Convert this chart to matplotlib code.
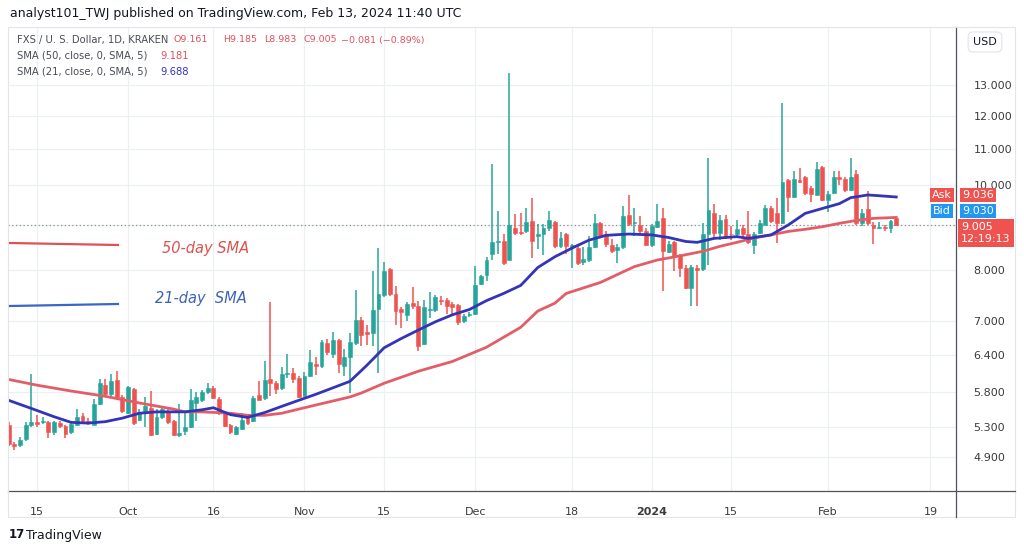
import matplotlib
matplotlib.use("Agg")
import matplotlib.pyplot as plt
import matplotlib.dates as mdates
from matplotlib.ticker import FixedLocator, NullLocator
from matplotlib.patches import Rectangle
from matplotlib.lines import Line2D
import pandas as pd

# daily FXS/USD candles, Sep 10 2023 .. Feb 13 2024
start = "2023-09-10"
opens = [
    # Sep 10-30
    5.33, 5.07, 5.05, 5.13, 5.32, 5.37, 5.36, 5.37, 5.22, 5.35, 5.31, 5.22, 5.33, 5.45, 5.38, 5.33, 5.63, 5.92, 5.77, 5.99, 5.73,
    # Oct
    5.50, 5.85, 5.40, 5.51, 5.57, 5.20, 5.43, 5.52, 5.38, 5.18, 5.24, 5.29, 5.64, 5.68, 5.80, 5.86, 5.70, 5.50, 5.33, 5.20,
    5.27, 5.45, 5.38, 5.76, 5.72, 6.00, 5.94, 5.86, 6.08, 6.10, 6.02,
    # Nov
    5.75, 6.06, 6.24, 6.21, 6.61, 6.42, 6.66, 6.22, 6.36, 6.60, 7.01, 6.80, 6.78, 7.22, 7.48, 8.02, 7.50, 7.22, 7.11, 7.33,
    7.28, 6.58, 7.20, 7.20, 7.40, 7.40, 7.31, 7.29, 7.00, 7.10,
    # Dec
    7.13, 7.70, 7.90, 8.34, 8.60, 8.62, 8.22, 8.92, 8.84, 8.85, 9.10, 8.74, 8.78, 8.93, 9.08, 8.52, 8.78, 8.50, 8.48, 8.16,
    8.20, 8.50, 9.04, 8.78, 8.55, 8.42, 8.49, 9.24, 9.04, 9.00, 8.86,
    # Jan
    8.53, 8.96, 9.16, 8.39, 8.60, 8.32, 8.05, 7.63, 8.03, 8.02, 8.79, 9.28, 8.82, 9.14, 8.80, 8.79, 8.93, 8.80, 8.55, 8.82,
    9.00, 9.40, 9.28, 9.05, 10.12, 9.70, 10.13, 10.21, 9.92, 9.75, 10.47,
    # Feb 1-13
    9.62, 9.78, 10.22, 10.15, 9.86, 10.29, 9.04, 9.38, 9.00, 8.93, 8.96, 8.92, 9.161,
]
highs = [
    5.36, 5.09, 5.16, 5.36, 6.08, 5.46, 5.44, 5.38, 5.38, 5.38, 5.33, 5.37, 5.55, 5.50, 5.42, 5.70, 6.00, 6.00, 6.08, 6.14, 5.76,
    5.90, 5.86, 5.55, 5.73, 5.82, 5.55, 5.57, 5.56, 5.40, 5.62, 5.50, 5.85, 5.80, 5.84, 5.95, 5.90, 5.73, 5.51, 5.34, 5.31,
    5.50, 5.47, 5.74, 5.98, 6.29, 7.36, 5.98, 6.20, 6.41, 6.18, 6.05,
    6.12, 6.49, 6.37, 6.65, 6.68, 6.80, 6.68, 6.50, 6.78, 7.58, 7.06, 6.93, 7.98, 8.47, 8.17, 8.04, 7.67, 7.25, 7.35, 7.64,
    7.38, 7.40, 7.55, 7.48, 7.47, 7.43, 7.35, 7.31, 7.12, 7.17,
    8.08, 7.90, 8.27, 10.57, 9.34, 8.80, 13.43, 9.27, 9.30, 9.40, 9.67, 9.03, 9.03, 9.34, 9.10, 8.84, 8.82, 8.56, 8.52, 8.50,
    8.75, 9.27, 9.08, 8.85, 8.67, 8.56, 9.47, 9.73, 9.40, 9.22, 8.93,
    9.02, 9.50, 9.40, 8.62, 8.63, 8.33, 8.10, 8.10, 8.10, 9.05, 10.74, 9.51, 9.24, 9.24, 8.98, 9.13, 9.00, 9.35, 8.83, 9.11,
    9.48, 9.47, 9.66, 12.39, 10.15, 10.37, 10.45, 10.25, 9.98, 10.62, 10.50,
    9.85, 10.38, 10.37, 10.20, 10.74, 10.40, 9.38, 9.85, 9.08, 9.08, 9.00, 9.12, 9.185,
]
lows = [
    5.04, 4.98, 5.02, 5.10, 5.30, 5.30, 5.34, 5.15, 5.19, 5.28, 5.14, 5.20, 5.31, 5.35, 5.33, 5.32, 5.61, 5.74, 5.75, 5.70, 5.50,
    5.48, 5.32, 5.38, 5.30, 5.17, 5.18, 5.41, 5.34, 5.17, 5.16, 5.18, 5.28, 5.38, 5.66, 5.78, 5.70, 5.46, 5.30, 5.20, 5.18,
    5.26, 5.33, 5.36, 5.68, 5.69, 5.75, 5.78, 5.83, 6.02, 5.94, 5.71,
    5.74, 6.04, 6.07, 6.19, 6.40, 6.35, 6.10, 6.05, 5.79, 6.57, 6.55, 6.56, 6.55, 6.10, 7.45, 7.47, 6.92, 6.86, 6.99, 7.21,
    6.47, 6.56, 7.05, 7.17, 7.30, 7.12, 7.12, 6.92, 6.96, 7.06,
    7.10, 7.68, 7.78, 8.20, 8.35, 8.10, 8.20, 8.76, 8.76, 8.82, 8.25, 8.45, 8.32, 8.87, 8.47, 8.48, 8.33, 8.03, 8.10, 8.10,
    8.16, 8.47, 8.70, 8.50, 8.36, 8.14, 8.45, 8.98, 8.75, 8.80, 8.52,
    8.50, 8.92, 7.57, 8.37, 7.97, 7.85, 7.60, 7.27, 7.27, 7.98, 8.10, 8.67, 8.66, 8.67, 8.66, 8.70, 8.70, 8.57, 8.33, 8.80,
    8.99, 9.06, 8.58, 9.03, 9.32, 9.67, 10.04, 9.74, 9.55, 9.73, 9.58,
    9.32, 9.76, 10.00, 9.82, 9.84, 9.00, 8.98, 9.01, 8.56, 8.90, 8.86, 8.82, 8.983,
]
closes = [
    5.07, 5.04, 5.12, 5.32, 5.37, 5.34, 5.38, 5.22, 5.37, 5.31, 5.20, 5.34, 5.44, 5.38, 5.35, 5.62, 5.94, 5.77, 5.98, 5.73, 5.52,
    5.88, 5.35, 5.51, 5.60, 5.19, 5.43, 5.55, 5.36, 5.18, 5.21, 5.29, 5.68, 5.73, 5.80, 5.86, 5.72, 5.49, 5.31, 5.22, 5.29,
    5.39, 5.35, 5.71, 5.69, 5.99, 5.95, 5.85, 6.08, 6.11, 6.01, 5.73,
    6.06, 6.28, 6.21, 6.62, 6.45, 6.66, 6.24, 6.36, 6.62, 7.01, 6.74, 6.76, 7.20, 7.50, 7.97, 7.50, 7.18, 7.16, 7.32, 7.27,
    6.55, 7.26, 7.22, 7.45, 7.38, 7.28, 7.26, 6.98, 7.09, 7.12,
    7.69, 7.88, 8.22, 8.60, 8.62, 8.14, 8.99, 8.82, 8.81, 9.07, 8.64, 8.80, 8.93, 9.13, 8.52, 8.71, 8.52, 8.53, 8.15, 8.24,
    8.50, 9.05, 8.76, 8.56, 8.40, 8.49, 9.22, 9.03, 9.08, 8.86, 8.55,
    8.98, 9.10, 8.40, 8.57, 8.30, 8.04, 7.63, 8.06, 8.00, 8.79, 9.37, 8.82, 9.12, 8.74, 8.78, 8.91, 8.78, 8.60, 8.80, 9.04,
    9.41, 9.10, 9.05, 10.08, 9.70, 10.15, 10.09, 9.78, 9.76, 10.44, 9.61,
    9.77, 10.22, 10.15, 9.88, 10.20, 9.04, 9.30, 9.04, 8.92, 8.96, 8.93, 9.086, 9.005,
]

# moving averages
sma50_dates = ["2023-09-10", "2023-09-15", "2023-09-21", "2023-09-27", "2023-10-03", "2023-10-09", "2023-10-11",
               "2023-10-14", "2023-10-19", "2023-10-22", "2023-10-25", "2023-10-28", "2023-10-31", "2023-11-03",
               "2023-11-09", "2023-11-11", "2023-11-15", "2023-11-21", "2023-11-27", "2023-12-03", "2023-12-09",
               "2023-12-12", "2023-12-15", "2023-12-17", "2023-12-23", "2023-12-29", "2024-01-02", "2024-01-06",
               "2024-01-10", "2024-01-13", "2024-01-16", "2024-01-19", "2024-01-22", "2024-01-25", "2024-01-28",
               "2024-01-31", "2024-02-03", "2024-02-06", "2024-02-09", "2024-02-13"]
sma50_vals = [6.00, 5.91, 5.82, 5.74, 5.64, 5.55, 5.51, 5.51, 5.49, 5.46, 5.46, 5.49, 5.55, 5.61, 5.73, 5.79, 5.94,
              6.13, 6.29, 6.53, 6.88, 7.18, 7.33, 7.52, 7.74, 8.07, 8.21, 8.30, 8.40, 8.51, 8.60, 8.70, 8.77, 8.85,
              8.90, 8.96, 9.04, 9.11, 9.16, 9.181]
sma21_dates = ["2023-09-10", "2023-09-14", "2023-09-18", "2023-09-21", "2023-09-24", "2023-09-27", "2023-09-30",
               "2023-10-03", "2023-10-06", "2023-10-11", "2023-10-14", "2023-10-16", "2023-10-19", "2023-10-22",
               "2023-10-25", "2023-10-28", "2023-10-31", "2023-11-03", "2023-11-09", "2023-11-12", "2023-11-15",
               "2023-11-18", "2023-11-21", "2023-11-24", "2023-11-27", "2023-11-30", "2023-12-03", "2023-12-06",
               "2023-12-09", "2023-12-12", "2023-12-15", "2023-12-18", "2023-12-21", "2023-12-24", "2023-12-28",
               "2024-01-01", "2024-01-04", "2024-01-07", "2024-01-09", "2024-01-12", "2024-01-16", "2024-01-18",
               "2024-01-22", "2024-01-25", "2024-01-28", "2024-01-31", "2024-02-03", "2024-02-05", "2024-02-08",
               "2024-02-10", "2024-02-13"]
sma21_vals = [5.68, 5.56, 5.44, 5.36, 5.35, 5.37, 5.42, 5.49, 5.51, 5.51, 5.54, 5.57, 5.47, 5.43, 5.50, 5.59, 5.68,
              5.77, 5.97, 6.23, 6.52, 6.68, 6.83, 6.98, 7.11, 7.21, 7.38, 7.52, 7.68, 8.05, 8.28, 8.47, 8.65, 8.76,
              8.79, 8.77, 8.71, 8.62, 8.60, 8.69, 8.73, 8.69, 8.77, 9.00, 9.28, 9.40, 9.52, 9.67, 9.74, 9.72, 9.688]

price_ticks = [4.9, 5.3, 5.8, 6.4, 7.0, 8.0, 9.0, 10.0, 11.0, 12.0, 13.0]
# 9.000 sits under the last-price box, so its label is not shown
price_labels = ["4.900", "5.300", "5.800", "6.400", "7.000", "8.000", "", "10.000", "11.000", "12.000", "13.000"]
date_ticks = ["2023-09-15", "2023-10-01", "2023-10-16", "2023-11-01", "2023-11-15", "2023-12-01",
              "2023-12-18", "2024-01-01", "2024-01-15", "2024-02-01", "2024-02-19"]
date_labels = ["15", "Oct", "16", "Nov", "15", "Dec", "18", "2024", "15", "Feb", "19"]

UP = "#26a69a"
DOWN = "#ef5350"
SMA50_C = "#e35d67"
SMA21_C = "#3434b8"
W, H = 1024, 551


def fx(px):
    return px / W


def fy(py):
    return 1 - py / H


fig = plt.figure(figsize=(W / 100, H / 100), dpi=100)
fig.patch.set_facecolor("white")
ax = fig.add_axes([fx(8), fy(491), fx(956) - fx(8), fy(27) - fy(491)])

dates = pd.date_range(start, periods=len(opens), freq="D")
x = mdates.date2num(dates)
colors = [UP if c >= o else DOWN for o, c in zip(opens, closes)]
bottoms = [min(o, c) for o, c in zip(opens, closes)]
heights = [max(abs(c - o), 0.004) for o, c in zip(opens, closes)]

ax.vlines(x, lows, highs, colors=colors, linewidth=1.1, zorder=3)
ax.bar(x, heights, bottom=bottoms, width=0.68, color=colors, edgecolor=colors, linewidth=0.4, zorder=4)

ax.plot(mdates.date2num(pd.to_datetime(sma50_dates)), sma50_vals, color=SMA50_C, lw=2, zorder=5)
ax.plot(mdates.date2num(pd.to_datetime(sma21_dates)), sma21_vals, color=SMA21_C, lw=2, zorder=5)

ax.axhline(closes[-1], color="#8a8f99", lw=0.9, ls=(0, (1, 2)), zorder=2)

ax.set_yscale("log")
ax.set_ylim(4.476, 15.14)
t0 = mdates.date2num(pd.Timestamp("2023-09-15"))
ax.set_xlim(t0 - 5.1, t0 + 161.5)

ax.yaxis.set_major_locator(FixedLocator(price_ticks))
ax.yaxis.set_minor_locator(NullLocator())
ax.set_yticklabels(price_labels)
ax.set_xticks(mdates.date2num(pd.to_datetime(date_ticks)))
ax.set_xticklabels(date_labels)
ax.xaxis.set_minor_locator(NullLocator())
for lab in ax.get_xticklabels():
    if lab.get_text() == "2024":
        lab.set_fontweight("bold")

ax.tick_params(axis="y", which="both", left=False, right=False, labelleft=False, labelright=True,
               pad=9, labelsize=8, labelcolor="#3b3b3b")
ax.tick_params(axis="x", which="both", bottom=False, labelsize=8, labelcolor="#3b3b3b", pad=8)
ax.grid(True, color="#edf0f3", lw=0.9, zorder=0)
ax.set_axisbelow(True)
for s in ["top", "left"]:
    ax.spines[s].set_visible(False)
ax.spines["right"].set_color("#50535e")
ax.spines["bottom"].set_color("#50535e")
ax.spines["right"].set_linewidth(0.9)
ax.spines["bottom"].set_linewidth(0.9)

# frame and axis extensions
fig.add_artist(Rectangle((fx(8), fy(517)), fx(1015) - fx(8), fy(27) - fy(517), transform=fig.transFigure,
                         fill=False, ec="#e3e5ea", lw=0.8))
fig.add_artist(Line2D([fx(956), fx(1015)], [fy(491), fy(491)], transform=fig.transFigure, color="#50535e", lw=0.9))
fig.add_artist(Line2D([fx(956), fx(956)], [fy(491), fy(517)], transform=fig.transFigure, color="#50535e", lw=0.9))

# header
fig.text(fx(10), fy(14), "analyst101_TWJ published on TradingView.com, Feb 13, 2024 11:40 UTC",
         fontsize=9, color="#131722", va="center")
gray = "#4a4d57"
hfs = 7.2
vfs = 6.8
fig.text(fx(17), fy(40), "FXS / U. S. Dollar, 1D, KRAKEN", fontsize=hfs, color=gray, va="center")
for px, s in [(173, "O9.161"), (223, "H9.185"), (264, "L8.983"), (304, "C9.005"), (341, "\u22120.081 (\u22120.89%)")]:
    fig.text(fx(px), fy(40), s, fontsize=vfs, color="#e0515c", va="center")
fig.text(fx(17), fy(56), "SMA (50, close, 0, SMA, 5)", fontsize=hfs, color=gray, va="center")
fig.text(fx(160), fy(56), "9.181", fontsize=hfs, color="#e0515c", va="center")
fig.text(fx(17), fy(72), "SMA (21, close, 0, SMA, 5)", fontsize=hfs, color=gray, va="center")
fig.text(fx(160), fy(72), "9.688", fontsize=hfs, color="#3434b8", va="center")

# hand-drawn legend
fig.add_artist(Line2D([fx(10), fx(118)], [fy(243), fy(245)], transform=fig.transFigure, color="#e0505a", lw=1.6))
fig.text(fx(162), fy(249), "50-day SMA", fontsize=10.5, style="italic", color="#d9534f", va="center")
fig.add_artist(Line2D([fx(10), fx(118)], [fy(306), fy(304)], transform=fig.transFigure, color="#3a66c4", lw=1.6))
fig.text(fx(155), fy(298), "21-day  SMA", fontsize=10.5, style="italic", color="#3f62b5", va="center")

# price axis labels
fig.text(fx(985), fy(42), "USD", fontsize=8, color="#131722", ha="center", va="center",
         bbox=dict(boxstyle="round,pad=0.45", fc="white", ec="#e0e3eb", lw=0.8))
fig.text(fx(942), fy(195), "Ask", fontsize=8, color="white", ha="center", va="center",
         bbox=dict(boxstyle="square,pad=0.2", fc=DOWN, ec="none"))
fig.text(fx(962), fy(195), "9.036", fontsize=8, color="white", ha="left", va="center",
         bbox=dict(boxstyle="square,pad=0.2", fc=DOWN, ec="none"))
fig.text(fx(942), fy(211), "Bid", fontsize=8, color="white", ha="center", va="center",
         bbox=dict(boxstyle="square,pad=0.2", fc="#2196f3", ec="none"))
fig.text(fx(962), fy(211), "9.030", fontsize=8, color="white", ha="left", va="center",
         bbox=dict(boxstyle="square,pad=0.2", fc="#2196f3", ec="none"))
fig.text(fx(961), fy(233), "9.005\n12:19:13", fontsize=8, color="white", ha="left", va="center",
         linespacing=1.2, bbox=dict(boxstyle="square,pad=0.3", fc=DOWN, ec="none"))

# footer logo
fig.text(fx(9), fy(535), "17", fontsize=8.5, fontweight="bold", color="#131722", va="center")
fig.text(fx(26), fy(535), "TradingView", fontsize=9, color="#131722", va="center")

fig.savefig("out.png", dpi=100, facecolor="white")
